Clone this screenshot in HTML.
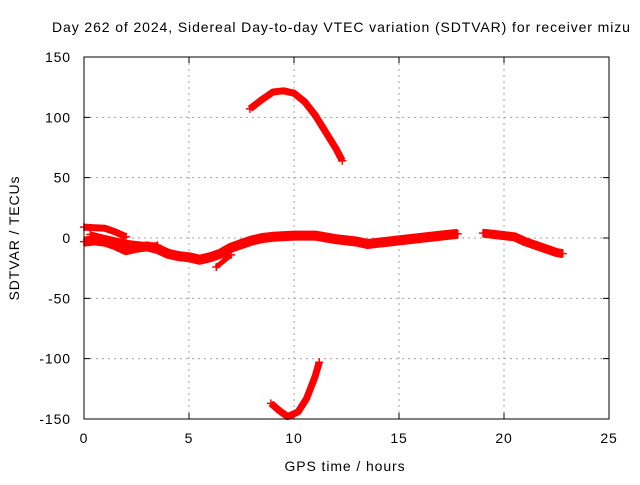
<!DOCTYPE html>
<html><head><meta charset="utf-8"><style>
body{margin:0;background:#fff}
svg text{font-family:"Liberation Sans",Arial,sans-serif;font-size:14px;fill:#000;letter-spacing:0.9px}
</style></head><body>
<svg id="c" width="640" height="480" xmlns="http://www.w3.org/2000/svg">
<rect width="640" height="480" fill="#fff"/>
<text x="52" y="32">Day 262 of 2024, Sidereal Day-to-day VTEC variation (SDTVAR) for receiver mizu</text>
<text x="345" y="471" text-anchor="middle">GPS time / hours</text>
<text transform="translate(19,238) rotate(-90)" text-anchor="middle">SDTVAR / TECUs</text>
<g id="grid"></g><g id="ticks"></g><g id="series"></g>
<rect x="84" y="57" width="525" height="362" fill="none" stroke="#000" stroke-width="1"/>
</svg>
<script>
const xTicks=[0,5,10,15,20,25];
const yTicks=[150,100,50,0,-50,-100,-150];
const segUpperStart=[[0,9],[0.5,8.5],[1,8],[1.5,5],[2,1]];
const segMain=[[0,-3],[0.5,-2],[1,-3],[1.5,-6],[2,-10],[2.5,-8],[3,-7],[3.5,-9],[4,-13],[4.5,-15],[5,-16],[5.5,-18],[6,-16],[6.5,-13],[7,-8],[7.5,-5],[8,-2],[8.5,0],[9,1],[10,2],[11,2],[12,-1],[13,-3],[13.5,-5],[14,-4],[14.5,-3],[15,-2],[16,0],[17,2],[17.8,3.5]];
const segMiddle=[[0.3,3],[1,0],[2,-4],[3,-6],[3.5,-6]];
const segShort=[[6.3,-24],[7,-14]];
const segLate=[[19,4],[19.5,3],[20,2],[20.5,1],[21,-3],[21.5,-6],[22,-9],[22.5,-12],[22.8,-13]];
const segUpperArc=[[7.9,107],[8.5,115],[9,121],[9.5,122],[10,120],[10.5,113],[11,102],[11.5,88],[12,74],[12.3,64]];
const segLowerArc=[[8.9,-137],[9.3,-143],[9.7,-148],[10.2,-144],[10.6,-133],[11,-115],[11.2,-103]];
const NS='http://www.w3.org/2000/svg';
const X=h=>84+h*21, Y=v=>238-v*362/300;
function mk(t,a,p){const e=document.createElementNS(NS,t);for(const k in a)e.setAttribute(k,a[k]);p.appendChild(e);return e;}
const grid=document.getElementById('grid'),ticks=document.getElementById('ticks'),ser=document.getElementById('series');
xTicks.forEach(t=>{
 if(t>0&&t<25){const l=mk('line',{x1:X(t),x2:X(t),y1:57,y2:419,stroke:'#a0a0a0','stroke-dasharray':'2,4'},grid);
 }
 const tk=mk('path',{d:`M${X(t)},419v-6M${X(t)},57v6`,stroke:'#000'},ticks);
 
 const tx=mk('text',{x:X(t),y:443,'text-anchor':'middle'},ticks);tx.textContent=t;
 
});
yTicks.forEach(t=>{
 if(t<150&&t>-150){const l=mk('line',{x1:84,x2:609,y1:Y(t),y2:Y(t),stroke:'#a0a0a0','stroke-dasharray':'2,4'},grid);
 }
 const tk=mk('path',{d:`M84,${Y(t)}h6M609,${Y(t)}h-6`,stroke:'#000'},ticks);
 
 const tx=mk('text',{x:71,y:Y(t)+5,'text-anchor':'end'},ticks);tx.textContent=t;
 
});
function draw(seg,w,name){
 const d=seg.map((p,i)=>(i?'L':'M')+X(p[0]).toFixed(1)+','+Y(p[1]).toFixed(1)).join('');
 const e=mk('path',{d:d,fill:'none',stroke:'#f00','stroke-width':w,'stroke-linejoin':'round'},ser);
 
 [seg[0],seg[seg.length-1]].forEach(p=>{
  const m=mk('path',{d:`M${X(p[0])-4},${Y(p[1])}h8M${X(p[0])},${Y(p[1])-4}v8`,stroke:'#f00','stroke-width':1.5},ser);
  
 });
}
draw(segUpperStart,7,'trace-upper-start');
draw(segMain,10,'trace-main');
draw(segMiddle,6,'trace-middle');
draw(segShort,5,'trace-short');
draw(segLate,9,'trace-late');
draw(segUpperArc,7,'trace-upper-arc');
draw(segLowerArc,7,'trace-lower-arc');
</script>
</body></html>
